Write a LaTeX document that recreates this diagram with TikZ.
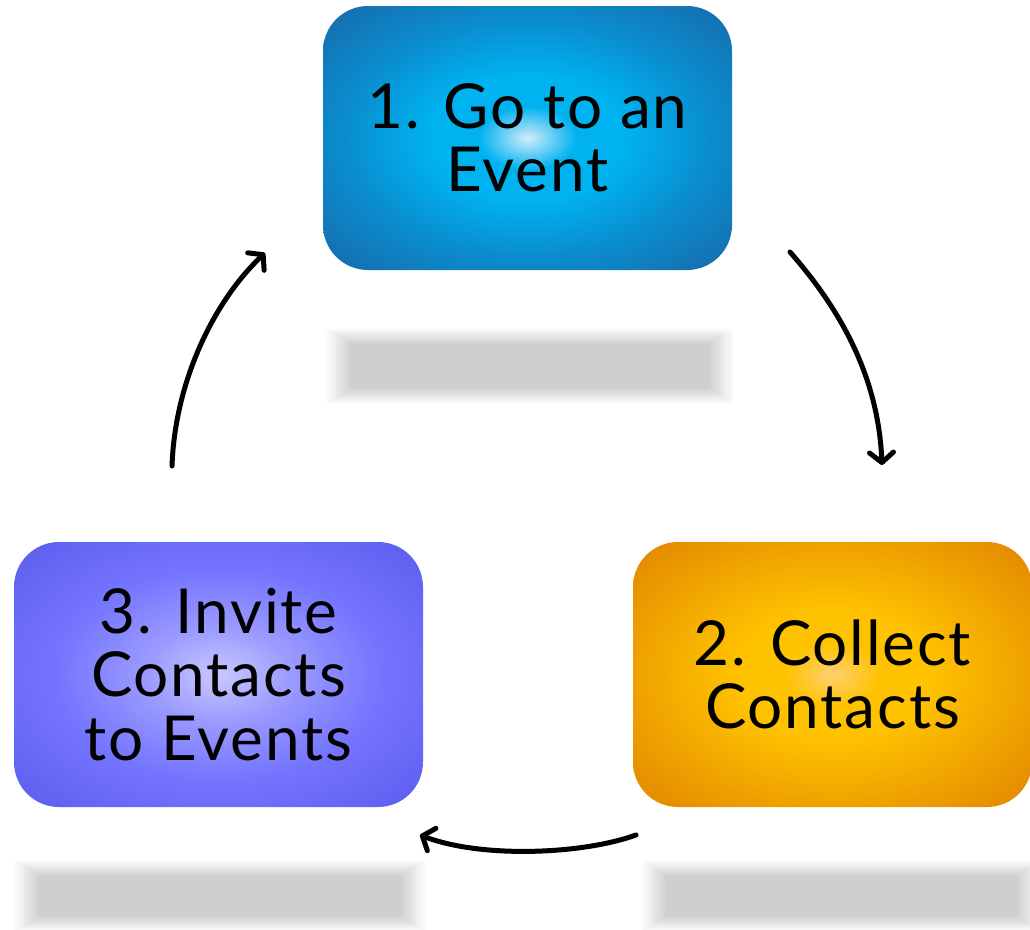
\documentclass[tikz,border=0pt]{standalone}
\usepackage{fontspec}
\setmainfont{Lato}[LetterSpace=3]
\usetikzlibrary{arrows.meta}
\definecolor{bA}{HTML}{D0ECFA}
\definecolor{bB}{HTML}{00B2F0}
\definecolor{bC}{HTML}{0A8ED0}
\definecolor{bD}{HTML}{1570B0}
\definecolor{bE}{HTML}{1A5590}
\definecolor{oA}{HTML}{FFD070}
\definecolor{oB}{HTML}{FFC200}
\definecolor{oC}{HTML}{F2A800}
\definecolor{oD}{HTML}{E48C00}
\definecolor{oE}{HTML}{D07000}
\definecolor{pA}{HTML}{C8C8FF}
\definecolor{pB}{HTML}{9A9AFF}
\definecolor{pC}{HTML}{7474FF}
\definecolor{pD}{HTML}{6262F2}
\definecolor{pE}{HTML}{4A50B8}
\pgfdeclareradialshading{blueshade}{\pgfpoint{0bp}{0bp}}{color(0bp)=(bA); color(6bp)=(bB); color(12bp)=(bB); color(22bp)=(bC); color(33bp)=(bD); color(46bp)=(bE); color(60bp)=(bE)}
\pgfdeclareradialshading{orangeshade}{\pgfpoint{0bp}{0bp}}{color(0bp)=(oA); color(6bp)=(oB); color(12bp)=(oB); color(22bp)=(oC); color(33bp)=(oD); color(46bp)=(oE); color(60bp)=(oE)}
\pgfdeclareradialshading{purpleshade}{\pgfpoint{0bp}{0bp}}{color(0bp)=(pA); color(9bp)=(pB); color(20bp)=(pC); color(32bp)=(pD); color(46bp)=(pE); color(60bp)=(pE)}
\tikzset{
  stepbox/.style={rounded corners=45pt, inner sep=0pt, align=center,
    font=\fontsize{62}{63.5}\selectfont, text=black},
  cyc/.style={line width=5pt, line cap=round, -{Straight Barb[round,length=10pt,width=24pt]}},
  shadowlayer/.style={fill=black, fill opacity=0.0064},
}
\begin{document}
\begin{tikzpicture}[x=1pt,y=-1pt]
\useasboundingbox (0,0) rectangle (1030,929);
% shadows
\foreach \xa/\ya/\xb/\yb in {326/328/734/404, 14/860/426/932, 641/860/1042/932}{
  \foreach \i in {0,...,23}{
    \fill[shadowlayer] (\xa+\i*1.1,\ya+\i*0.7) rectangle (\xb-\i*1.1,\yb-\i*0.7);
  }
}
% boxes
\node[stepbox, shading=blueshade, minimum width=409pt, minimum height=264pt] (b1) at (527.5,138) {1. Go to an\\Event};
\node[stepbox, shading=orangeshade, minimum width=399pt, minimum height=265pt] (b2) at (832.5,674.5) {2. Collect\\Contacts};
\node[stepbox, shading=purpleshade, minimum width=409pt, minimum height=265pt] (b3) at (218.5,674.5) {3. Invite\\Contacts\\to Events};
% arrow ends
\coordinate (a1s) at (790,252);
\coordinate (a1e) at (882,465);
\coordinate (a2s) at (636,835);
\coordinate (a2e) at (420,835);
\coordinate (a3s) at (172,466);
\coordinate (a3e) at (265,253);
\draw[cyc] (a1s) .. controls (832,300) and (878,368) .. (a1e);
\draw[cyc] (a2s) .. controls (580,855) and (480,858) .. (a2e);
\draw[cyc] (a3s) .. controls (175,380) and (215,300) .. (a3e);
\end{tikzpicture}
\end{document}
